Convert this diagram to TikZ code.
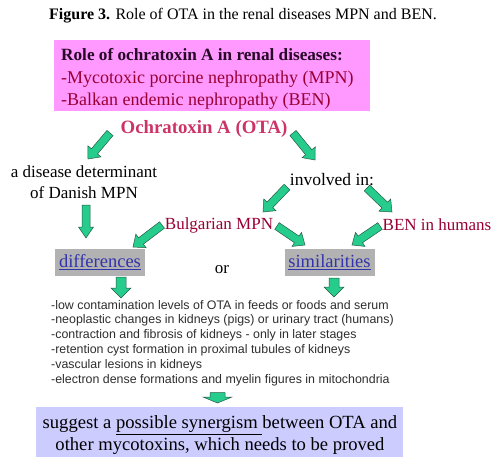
\documentclass[tikz,border=0pt]{standalone}
\usepackage{fontspec}
\setmainfont{Liberation Serif}
\setsansfont{Liberation Sans}
\usetikzlibrary{calc}
\definecolor{pinkbg}{RGB}{255,153,255}
\definecolor{lavbg}{RGB}{204,204,255}
\definecolor{greybg}{RGB}{178,178,178}
\definecolor{crimson}{RGB}{204,51,102}
\definecolor{maroon}{RGB}{153,0,51}
\definecolor{darkplum}{RGB}{40,10,40}
\definecolor{linkblue}{RGB}{51,51,170}
\definecolor{bulletgrey}{RGB}{45,45,45}
\definecolor{arrfill}{RGB}{38,204,140}
\definecolor{arrline}{RGB}{40,90,70}
\newcommand\blkarrow[5]{%
  \coordinate (hb) at ($(#2)!#5!(#1)$);
  \filldraw[blockarr] ($(#1)!#3!90:(#2)$) -- ($(hb)!#3!90:(#2)$) -- ($(hb)!#4!90:(#2)$) -- (#2)
    -- ($(hb)!#4!-90:(#2)$) -- ($(hb)!#3!-90:(#2)$) -- ($(#1)!#3!-90:(#2)$) -- cycle;}
\tikzset{
  blockarr/.style={fill=arrfill, draw=arrline, line width=0.5pt, line join=miter},
  txt/.style={inner sep=0pt, font=\fontsize{17}{20}\selectfont},
  redtxt/.style={txt, text=maroon},
  greybox/.style={fill=greybg, inner sep=0pt, minimum width=90pt, minimum height=27pt,
     font=\fontsize{18.5}{20}\selectfont, text=linkblue},
}
\begin{document}
\begin{tikzpicture}[x=1pt,y=-1pt]
\useasboundingbox (0,0) rectangle (504,469);
% caption
\node[inner sep=0pt, font=\fontsize{16}{18}\selectfont] (cap) at (243,16)
  {\textbf{Figure 3.} Role of OTA in the renal diseases MPN and BEN.};
% pink box
\node[fill=pinkbg, inner sep=0pt, minimum width=316pt, minimum height=71pt] (rolebox) at (212,75.5) {};
\node[inner sep=0pt, anchor=north west, align=left, font=\fontsize{18}{22.5}\selectfont]
  (role) at (61,48.5)
  {\textcolor{darkplum}{\fontsize{17.2}{22.5}\selectfont\bfseries Role of ochratoxin A in renal diseases:}\\
   \textcolor{maroon}{-Mycotoxic porcine nephropathy (MPN)}\\
   \textcolor{maroon}{-Balkan endemic nephropathy (BEN)}};
% OTA
\node[txt, text=crimson, font=\bfseries\fontsize{18.8}{20}\selectfont] (ota) at (204,128.5) {Ochratoxin A (OTA)};
% left branch
\node[txt, align=center, font=\fontsize{17}{21}\selectfont] (danish) at (84,182)
  {a disease determinant\\of Danish MPN};
\node[txt, font=\fontsize{17.5}{20}\selectfont] (inv) at (332,180) {involved in:};
\node[redtxt] (bulg) at (219,225) {Bulgarian MPN};
\node[redtxt] (benh) at (437,225) {BEN in humans};
\node[greybox] (diff) at (100,262) {\underline{differences}};
\node[greybox] (simi) at (329.5,262) {\underline{similarities}};
\node[txt] (or) at (222,270) {or};
% bullet list
\node[inner sep=0pt, anchor=north west, align=left, text=bulletgrey,
      font=\sffamily\fontsize{12.4}{14.8}\selectfont] (list) at (51,300)
  {-low contamination levels of OTA in feeds or foods and serum\\
   -neoplastic changes in kidneys (pigs) or urinary tract (humans)\\
   -contraction and fibrosis of kidneys - only in later stages\\
   -retention cyst formation in proximal tubules of kidneys\\
   -vascular lesions in kidneys\\
   -electron dense formations and myelin figures in mitochondria};
% bottom box
\node[fill=lavbg, inner sep=0pt, minimum width=367pt, minimum height=50pt] (suggbox) at (219.5,432) {};
\node[inner sep=0pt, align=center, font=\fontsize{18.6}{22}\selectfont] (sugg) at (220,435)
  {suggest a \underline{possible synergism\ }between OTA and\\
   other mycotoxins, which needs to be proved};
% arrow end points
\coordinate (a1s) at (110,133); \coordinate (a1e) at (88,159);
\coordinate (a2s) at (293,133); \coordinate (a2e) at (315,160);
\coordinate (a3s) at (86,205);  \coordinate (a3e) at (86,238);
\coordinate (a4s) at (287,187); \coordinate (a4e) at (263,212);
\coordinate (a5s) at (367,188); \coordinate (a5e) at (392,212);
\coordinate (a6s) at (162,225); \coordinate (a6e) at (133,247);
\coordinate (a7s) at (277,226); \coordinate (a7e) at (305,245);
\coordinate (a8s) at (380,226); \coordinate (a8e) at (352,245);
\coordinate (a9s) at (121,277); \coordinate (a9e) at (121,298);
\coordinate (a10s) at (334,278); \coordinate (a10e) at (334,297);
\coordinate (a11s) at (217.5,392.5); \coordinate (a11e) at (217.5,403);
% arrows
\blkarrow{a1s}{a1e}{4pt}{8.5pt}{10pt}
\blkarrow{a2s}{a2e}{4pt}{8.5pt}{10pt}
\blkarrow{a3s}{a3e}{4pt}{7.5pt}{11pt}
\blkarrow{a4s}{a4e}{4pt}{8.5pt}{10pt}
\blkarrow{a5s}{a5e}{4pt}{8.5pt}{10pt}
\blkarrow{a6s}{a6e}{4pt}{8.5pt}{10pt}
\blkarrow{a7s}{a7e}{4pt}{8.5pt}{10pt}
\blkarrow{a8s}{a8e}{4pt}{8.5pt}{10pt}
\blkarrow{a9s}{a9e}{5pt}{10pt}{10pt}
\blkarrow{a10s}{a10e}{5pt}{10pt}{10pt}
\blkarrow{a11s}{a11e}{7.5pt}{14.5pt}{6pt}
\end{tikzpicture}
\end{document}
